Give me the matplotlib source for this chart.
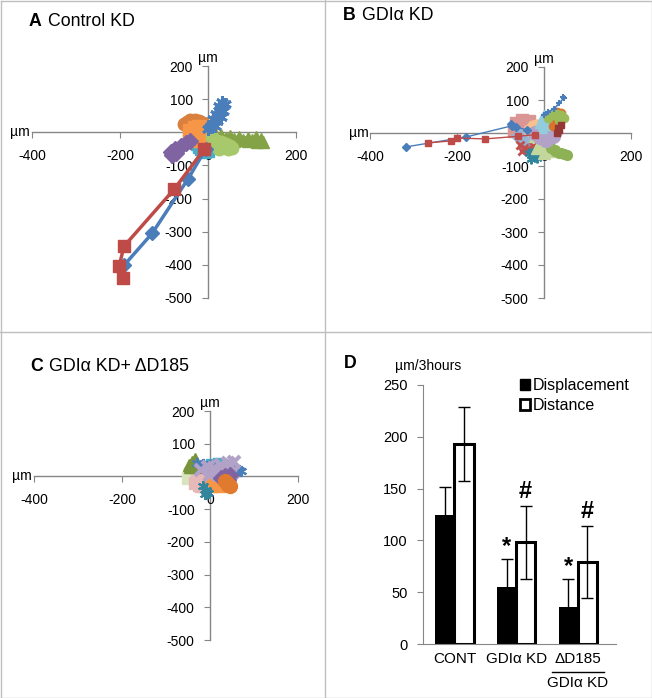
"""
Cell migration tracks (A-C) and displacement / distance bars (D)
"""

import matplotlib
matplotlib.use("Agg")
import matplotlib.pyplot as plt
from matplotlib.lines import Line2D
from matplotlib.patches import Patch

plt.rcParams['font.family'] = ['Liberation Sans', 'DejaVu Sans']
plt.rcParams['axes.unicode_minus'] = False

W, H = 652, 698

# ---------------- data -----------------
# panel A, Control KD (um)
a_blue_x = [-5, -45, -127, -190]
a_blue_y = [-50, -140, -305, -400]
a_red_x = [-8, -77, -191, -202, -194]
a_red_y = [-50, -172, -344, -404, -440]
a_star_x = [0, 8, 12, 18, 22, 28, 25, 32, 38, 35, 30, 20, 15, 5]
a_star_y = [10, 25, 40, 55, 50, 70, 80, 90, 85, 65, 45, 35, 20, 15]
a_brown_x = [-55, -48, -40, -30, -20, -12, -18, -30, -45]
a_brown_y = [25, 32, 36, 38, 35, 28, 20, 18, 20]
a_orange_x = [-40, -30, -20, -10, 0, 5, -5, -20, -35, -42, -30, -15, 0]
a_orange_y = [5, 12, 15, 10, 5, -10, -20, -22, -15, -5, -8, 0, -2]
a_teal_x = [-5, -20, -25, -15, 0, 8, 5, -10, -20, -8, 2]
a_teal_y = [-10, -20, -35, -50, -55, -45, -30, -25, -45, -60, -40]
a_purple_x = [-40, -50, -62, -75, -85, -82, -72]
a_purple_y = [-25, -33, -42, -50, -58, -68, -62]
a_olive_x = [12, 20, 30, 40, 50, 60, 70, 80, 90, 100, 110, 120, 126, 112, 90, 60, 35, 15]
a_olive_y = [-8, -14, -8, -18, -12, -20, -14, -22, -16, -24, -14, -20, -28, -28, -27, -27, -26, -18]
a_lgreen_x = [10, 20, 30, 40, 50, 55, 45, 30, 18, 25, 40]
a_lgreen_y = [-15, -25, -30, -35, -40, -48, -50, -45, -35, -50, -45]

# panel B, GDIa KD (um)
b_blue_x = [-317, -179, -73, -75, -65, -40]
b_blue_y = [-42, -12, 22, 28, 18, 10]
b_red_x = [-267, -214, -200, -136, -60, -20]
b_red_y = [-30, -24, -15, -18, -10, -5]
b_bstar_x = [0, 10, 22, 35, 45, 43]
b_bstar_y = [55, 65, 72, 90, 105, 110]
b_rose_x = [-70, -55, -40, -35, -50, -65, -45]
b_rose_y = [5, 15, 25, 35, 38, 30, 10]
b_lblue_x = [-60, -50, -40, -45, -55]
b_lblue_y = [-10, -20, -25, -15, -5]
b_redx_x = [-55, -45, -35, -25, -40, -50]
b_redx_y = [-35, -45, -55, -40, -50, -55]
b_teal_x = [-35, -25, -15, -10, -20, -30]
b_teal_y = [-60, -70, -75, -65, -55, -80]
b_pale_x = [-20, -5, 10, 15, 0, -15, -10]
b_pale_y = [-10, -25, -40, -55, -60, -45, -30]
b_green_x = [15, 25, 35, 45, 52, 40, 25]
b_green_y = [-45, -55, -60, -65, -68, -62, -50]
b_peach_x = [-35, -25, -15, -5, 5, -10, -25]
b_peach_y = [10, 20, 25, 22, 15, 5, 0]
b_lav_x = [-20, -5, 10, 25, 20, 5, -10]
b_lav_y = [0, 10, 15, 5, -10, -20, -12]
b_cyan_x = [-10, -5, 0, 10, 5, -5]
b_cyan_y = [30, 45, 55, 40, 25, 15]
b_orng_x = [20, 28, 35, 38, 30, 25]
b_orng_y = [20, 30, 45, 60, 65, 40]
b_gcirc_x = [10, 20, 30, 40, 45, 35]
b_gcirc_y = [45, 55, 58, 55, 45, 40]
b_dred_x = [30, 35, 38, 33]
b_dred_y = [0, 10, 25, 15]

# panel C, GDIa KD + dD185 (um)
c_green_x = [-45, -40, -35, -42, -48, -38]
c_green_y = [30, 40, 52, 45, 35, 28]
c_beige_x = [-50, -40, -30, -20, -35, -45, -25]
c_beige_y = [-5, 5, 15, 10, 0, 10, -10]
c_pink_x = [-35, -25, -15, -5, -20, -30]
c_pink_y = [-20, -25, -28, -22, -30, -15]
c_orange_x = [0, 10, 20, 25, 15, 5]
c_orange_y = [-20, -25, -30, -20, -15, -28]
c_teal_x = [-15, -10, -5, -12, -8]
c_teal_y = [-30, -40, -50, -55, -45]
c_cyan_x = [-10, 0, 15, 30, 35, 20, 5]
c_cyan_y = [35, 40, 45, 42, 35, 30, 38]
c_blue_x = [-30, -15, 0, 15, 30, 45, 55, 65, 70]
c_blue_y = [40, 38, 35, 30, 28, 25, 22, 20, 18]
c_lav_x = [-20, -5, 10, 25, 40, 55, 45, 30, 15, 0, 35, 50]
c_lav_y = [20, 30, 25, 35, 40, 45, 30, 15, 10, 5, 20, 10]
c_purple_x = [25, 35, 45, 40, 30]
c_purple_y = [-5, 0, 5, -10, -8]
c_brown_x = [35, 40, 45, 38]
c_brown_y = [-15, -25, -30, -20]
c_red_x = [-20, -10, 0]
c_red_y = [20, 25, 15]

# panel D
groups = ['CONT', 'GDIα KD', 'ΔD185']
group_sub = ['', '', 'GDIα KD']
displacement = [125, 55, 36]
displacement_err = [27, 27, 27]
distance = [193, 98, 79]
distance_err = [36, 35, 35]
disp_sig = ['', '*', '*']
dist_sig = ['', '#', '#']

GRAY = '#868686'
AST = (6, 2, 0)


def px_axes(left, top, right, bottom):
    return fig.add_axes([left / W, 1 - bottom / H, (right - left) / W, (bottom - top) / H])


def track_axes(ax):
    """
    Excel style cross axes through the origin
    """
    ax.set_xlim(-400, 200)
    ax.set_ylim(-500, 200)
    ax.patch.set_alpha(0)
    for s in ['top', 'right']:
        ax.spines[s].set_visible(False)
    ax.spines['left'].set_position(('data', 0))
    ax.spines['bottom'].set_position(('data', 0))
    for s in ['left', 'bottom']:
        ax.spines[s].set_color(GRAY)
        ax.spines[s].set_linewidth(1)
        ax.spines[s].set_zorder(0.5)
    ax.set_xticks([-400, -200, 0, 200])
    ax.set_yticks([200, 100, 0, -100, -200, -300, -400, -500])
    ax.tick_params(axis='x', direction='out', length=4, color=GRAY, pad=8, labelsize=10)
    ax.tick_params(axis='y', direction='out', length=4, color=GRAY, pad=7, labelsize=10)
    ax.text(-404, 0, 'µm', ha='right', va='center', fontsize=10, clip_on=False)
    ax.text(0, 204, 'µm', ha='center', va='bottom', fontsize=10, clip_on=False)


def track(ax, x, y, color, marker, ms, lw, mew=1.0):
    ax.plot(x, y, color=color, marker=marker, markersize=ms, linewidth=lw,
            markeredgecolor=color, markerfacecolor=color, markeredgewidth=mew)


def panel_title(x, y, letter, text):
    fig.text(x / W, 1 - y / H, letter, fontsize=12.8, fontweight='bold', va='center')
    fig.text((x + 19) / W, 1 - y / H, text, fontsize=12.8, va='center')


fig = plt.figure(figsize=(W / 100, H / 100), dpi=100)

# frame lines around the four panels
frame = '#BFBFBF'
for xs, ys in [([0.5, 651.5], [0.5, 0.5]), ([0.5, 651.5], [697.5, 697.5]),
               ([0.5, 0.5], [0.5, 697.5]), ([651.5, 651.5], [0.5, 697.5]),
               ([325, 325], [0, 698]), ([0, 652], [332, 332])]:
    fig.add_artist(Line2D([v / W for v in xs], [1 - v / H for v in ys], color=frame, linewidth=1))

# ---------------- A ----------------
ax = px_axes(32, 66, 296, 298)
track_axes(ax)
track(ax, a_brown_x, a_brown_y, '#D9803E', 'o', 9, 3)
track(ax, a_teal_x, a_teal_y, '#4BACC6', 's', 9, 3)
track(ax, a_orange_x, a_orange_y, '#F79646', 's', 10, 3)
track(ax, a_purple_x, a_purple_y, '#8064A2', 'D', 8, 3)
track(ax, a_olive_x, a_olive_y, '#84A346', '^', 9, 3)
track(ax, a_lgreen_x, a_lgreen_y, '#A8C96B', 'o', 9, 3)
track(ax, a_star_x, a_star_y, '#4A7EBB', AST, 9, 2.0, mew=2)
track(ax, a_blue_x, a_blue_y, '#4A7EBB', 'D', 7, 2.5)
track(ax, a_red_x, a_red_y, '#BE4B48', 's', 9, 2.5)
panel_title(29, 22, 'A', 'Control KD')

# ---------------- B ----------------
ax = px_axes(370, 67, 631, 298)
track_axes(ax)
track(ax, b_rose_x, b_rose_y, '#D99694', 's', 8, 2)
track(ax, b_lblue_x, b_lblue_y, '#95B3D7', 'D', 7, 2)
track(ax, b_redx_x, b_redx_y, '#C0504D', 'x', 6, 2, mew=2)
track(ax, b_teal_x, b_teal_y, '#31859C', AST, 7, 2, mew=1.5)
track(ax, b_pale_x, b_pale_y, '#C3D69B', '^', 8, 2)
track(ax, b_green_x, b_green_y, '#8DB255', 'o', 7, 3)
track(ax, b_peach_x, b_peach_y, '#FAC090', 'o', 8, 2)
track(ax, b_lav_x, b_lav_y, '#B3A2C7', 'o', 10, 2)
track(ax, b_cyan_x, b_cyan_y, '#93CDDD', '^', 7, 2)
track(ax, b_orng_x, b_orng_y, '#D9752B', 'o', 6, 2)
track(ax, b_gcirc_x, b_gcirc_y, '#9BBB59', 'o', 6, 2)
track(ax, b_dred_x, b_dred_y, '#953735', 's', 4, 1.5)
track(ax, b_bstar_x, b_bstar_y, '#4A7EBB', '+', 5, 1.2, mew=1.5)
track(ax, b_blue_x, b_blue_y, '#4A7EBB', 'D', 4, 1.0)
track(ax, b_red_x, b_red_y, '#BE4B48', 's', 4.5, 1.0)
panel_title(343, 15, 'B', 'GDIα KD')

# ---------------- C ----------------
ax = px_axes(34, 411, 298, 640)
track_axes(ax)
track(ax, c_beige_x, c_beige_y, '#D7E4BD', 's', 8, 2)
track(ax, c_pink_x, c_pink_y, '#E6B9B8', 's', 8, 2)
track(ax, c_orange_x, c_orange_y, '#F79646', 's', 8, 2)
track(ax, c_teal_x, c_teal_y, '#31859C', AST, 8, 1.5, mew=1.5)
track(ax, c_green_x, c_green_y, '#77933C', '^', 9, 2)
track(ax, c_cyan_x, c_cyan_y, '#4BACC6', 's', 6, 2)
track(ax, c_red_x, c_red_y, '#C0504D', 's', 4, 1)
track(ax, c_blue_x, c_blue_y, '#4A7EBB', AST, 8, 1.5, mew=1.5)
track(ax, c_lav_x, c_lav_y, '#B3A2C7', 'x', 9, 2.5, mew=3)
track(ax, c_purple_x, c_purple_y, '#8064A2', 'D', 8, 2)
track(ax, c_brown_x, c_brown_y, '#E07A2E', 'o', 10, 2)
panel_title(30, 367, 'C', 'GDIα KD+ ΔD185')

# ---------------- D ----------------
ax = px_axes(423, 385, 616, 644)
xs = list(range(len(groups)))
bw = 0.31
ax.bar([x - bw / 2 for x in xs], displacement, bw, color='black', zorder=2,
       yerr=displacement_err, error_kw=dict(ecolor='black', elinewidth=1, capsize=4, capthick=1))
ax.bar([x + bw / 2 for x in xs], distance, bw, color='white', edgecolor='black', linewidth=2.2, zorder=2,
       yerr=distance_err, error_kw=dict(ecolor='black', elinewidth=1, capsize=4, capthick=1))
for i in xs:
    if disp_sig[i]:
        ax.text(i - bw / 2, displacement[i] + displacement_err[i] + 1, disp_sig[i],
                ha='center', va='bottom', fontsize=17, fontweight='bold')
    if dist_sig[i]:
        ax.text(i + bw / 2, distance[i] + distance_err[i] + 3, dist_sig[i],
                ha='center', va='bottom', fontsize=17, fontweight='bold')
ax.set_xlim(-0.51, 2.62)
ax.set_ylim(0, 250)
for s in ['top', 'right']:
    ax.spines[s].set_visible(False)
for s in ['left', 'bottom']:
    ax.spines[s].set_color(GRAY)
ax.set_yticks([0, 50, 100, 150, 200, 250])
ax.tick_params(axis='y', direction='out', length=4, color=GRAY, pad=7, labelsize=10.5)
ax.set_xticks(xs)
ax.set_xticklabels(groups, fontsize=11)
ax.tick_params(axis='x', length=0, pad=6)
for i in xs:
    if group_sub[i]:
        ax.text(i, -38, group_sub[i], ha='center', va='center', fontsize=11,
                transform=ax.transData, clip_on=False)
        ax.add_line(Line2D([i - 0.42, i + 0.42], [-27, -27], color='black', linewidth=1, clip_on=False))

handles = [Patch(facecolor='black', edgecolor='black'),
           Patch(facecolor='white', edgecolor='black', linewidth=2)]
fig.legend(handles, ['Displacement', 'Distance'], loc='upper left',
           bbox_to_anchor=(520 / W, 1 - 378 / H), frameon=False, fontsize=11.5,
           handlelength=0.65, handleheight=0.65, handletextpad=0.15, labelspacing=0.3,
           borderpad=0, borderaxespad=0)
fig.text(395 / W, 1 - 366 / H, 'µm/3hours', fontsize=10, va='center')
fig.text(344 / W, 1 - 363 / H, 'D', fontsize=12.8, fontweight='bold', va='center')

fig.savefig('out.png', dpi=100)
